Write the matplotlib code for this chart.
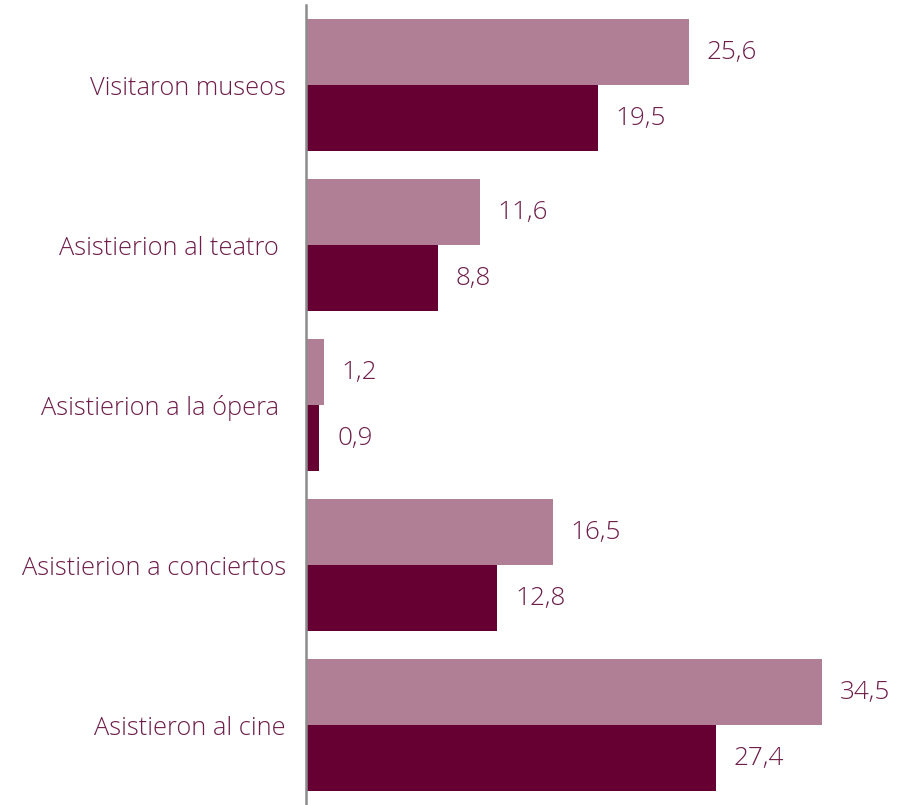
import matplotlib.pyplot as plt
import numpy as np

categories = ["Visitaron museos", "Asistierion al teatro ", "Asistierion a la ópera ",
              "Asistierion a conciertos", "Asistieron al cine"]
serie_a = [25.6, 11.6, 1.2, 16.5, 34.5]
serie_b = [19.5, 8.8, 0.9, 12.8, 27.4]

light = "#b07f96"
dark = "#660033"
text_col = "#6e1e4a"

plt.rcParams['font.family'] = ['Open Sans', 'DejaVu Sans']

fig = plt.figure(figsize=(9.03, 8.05), dpi=100)
ax = fig.add_axes([306 / 903, 0, 597 / 903, 1])

y = np.arange(len(categories))
h = 66 / 160
ax.barh(y - h / 2, serie_a, height=h, color=light)
ax.barh(y + h / 2, serie_b, height=h, color=dark)

for i in range(len(categories)):
    ax.text(serie_a[i] + 1.2, y[i] - h / 2, f"{serie_a[i]:.1f}".replace(".", ","),
            va="center", ha="left", fontsize=18.8, color=text_col, fontweight="light")
    ax.text(serie_b[i] + 1.2, y[i] + h / 2, f"{serie_b[i]:.1f}".replace(".", ","),
            va="center", ha="left", fontsize=18.8, color=text_col, fontweight="light")

ax.set_xlim(0, 597 / 14.96)
ax.set_ylim(4 + 80 / 160, -85 / 160)
ax.set_yticks(y)
ax.set_yticklabels(categories, fontsize=18.3, color=text_col, fontweight="light")
ax.tick_params(axis="y", length=0, pad=14.5)
ax.set_xticks([])
for s in ["top", "right", "bottom"]:
    ax.spines[s].set_visible(False)
ax.spines["left"].set_color("#8c8c8c")
ax.spines["left"].set_linewidth(1.8)
ax.spines["left"].set_bounds(4.5, -80 / 160)

fig.savefig("out.png", dpi=100)
